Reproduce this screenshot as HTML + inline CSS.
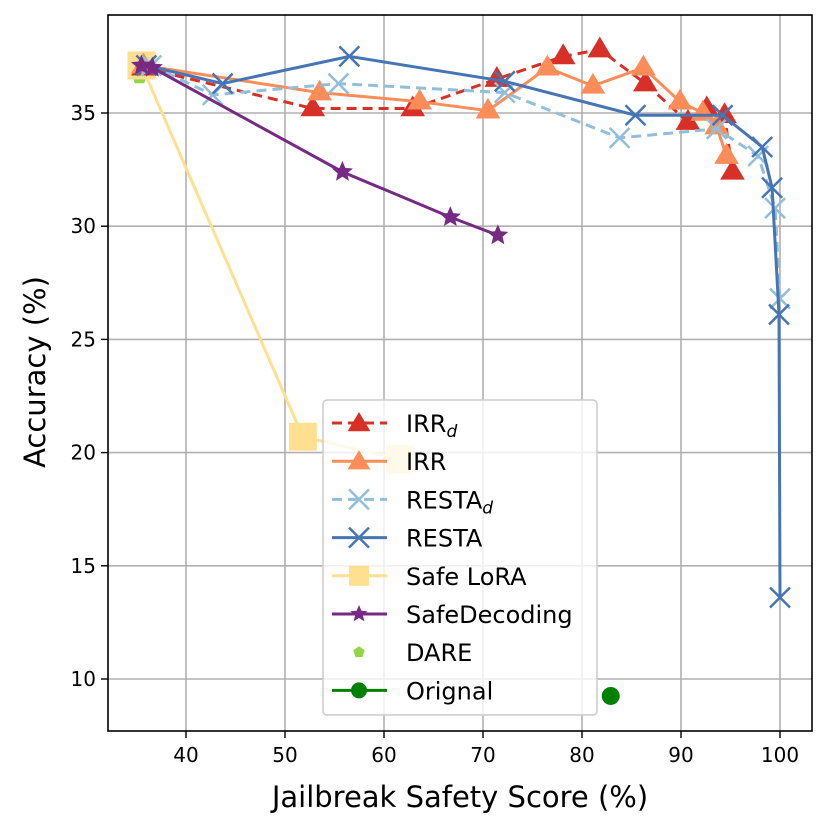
<!DOCTYPE html>
<html><head><meta charset="utf-8"><style>
html,body{margin:0;padding:0;background:#fff}
svg{display:block;font-family:"DejaVu Sans","Liberation Sans",sans-serif}
</style></head><body>
<svg id="chart" width="829" height="829" viewBox="0 0 829 829" xmlns="http://www.w3.org/2000/svg">
<defs><clipPath id="pc"><rect x="108" y="15" width="704" height="716"/></clipPath></defs>
<g id="grid"></g>
<g id="series" clip-path="url(#pc)"></g>
<rect x="108" y="15" width="704" height="716" fill="none" stroke="#000" stroke-width="1.6"/>
<g id="ticks"></g>
<text x="460" y="807" font-size="29" text-anchor="middle">Jailbreak Safety Score (%)</text>
<text transform="translate(45,372) rotate(-90)" font-size="29" text-anchor="middle">Accuracy (%)</text>
<g id="legend"></g>
</svg>
<script>
const xTicks=[40,50,60,70,80,90,100];
const yTicks=[10,15,20,25,30,35];
const irrdX=[35.7,52.8,62.9,71.4,78.1,81.8,86.4,90.7,92.6,94.4,95.2];
const irrdY=[37.0,35.2,35.2,36.5,37.5,37.8,36.3,34.6,35.2,34.9,32.4];
const irrX=[35.7,53.5,63.6,70.5,76.5,81.1,86.2,89.9,92.2,93.6,94.6];
const irrY=[37.1,35.9,35.5,35.1,37.0,36.2,37.0,35.5,35.0,34.4,33.1];
const restadX=[36.5,42.7,55.4,72.2,83.8,93.6,97.8,99.5,100];
const restadY=[37.1,35.8,36.3,35.9,33.9,34.3,33.1,30.8,26.8];
const restaX=[36.0,43.7,56.5,72.2,85.4,94.2,98.2,99.2,99.9,100];
const restaY=[37.1,36.3,37.5,36.4,34.9,34.9,33.5,31.7,26.1,13.6];
const loraX=[35.5,51.8,61.6];
const loraY=[37.1,20.7,19.7];
const sdX=[35.5,36.6,55.8,66.7,71.5];
const sdY=[37.1,37.0,32.4,30.4,29.6];
const dareX=[35.3];
const dareY=[36.6];
const origX=[82.9];
const origY=[9.25];

const NS="http://www.w3.org/2000/svg";
const sx=v=>186+(v-40)*9.9;
const sy=v=>113-(v-35)*22.64;
function mk(tag,attrs,parent){const e=document.createElementNS(NS,tag);for(const k in attrs)e.setAttribute(k,attrs[k]);parent.appendChild(e);return e;}
const grid=document.getElementById('grid'),ticks=document.getElementById('ticks'),ser=document.getElementById('series'),leg=document.getElementById('legend');
xTicks.forEach(t=>{const x=sx(t);
 const g=mk('line',{x1:x,x2:x,y1:15,y2:731,stroke:'#b0b0b0','stroke-width':1.6},grid);
 
 
 mk('line',{x1:x,x2:x,y1:731,y2:738,stroke:'#000','stroke-width':1.4},ticks);
 const tx=mk('text',{x:x,y:762,'font-size':20,'text-anchor':'middle'},ticks);tx.textContent=t;
 
 
});
yTicks.forEach(t=>{const y=sy(t);
 const g=mk('line',{x1:108,x2:812,y1:y,y2:y,stroke:'#b0b0b0','stroke-width':1.6},grid);
 
 
 mk('line',{x1:101,x2:108,y1:y,y2:y,stroke:'#000','stroke-width':1.4},ticks);
 const tx=mk('text',{x:96,y:y+7,'font-size':20,'text-anchor':'end'},ticks);tx.textContent=t;
 
 
});
function marker(type,x,y,c,p,s){
 if(type==='tri'){const r=s||13;return mk('polygon',{points:`${x},${y-r} ${x-r*0.95},${y+r*0.6} ${x+r*0.95},${y+r*0.6}`,fill:c},p);}
 if(type==='x'){const r=s||10;return mk('path',{d:`M${x-r} ${y-r}L${x+r} ${y+r}M${x-r} ${y+r}L${x+r} ${y-r}`,stroke:c,'stroke-width':2.5,fill:'none'},p);}
 if(type==='sq'){const r=s||14;return mk('rect',{x:x-r,y:y-r,width:2*r,height:2*r,fill:c},p);}
 if(type==='star'){const r=s||11;let pts=[];for(let i=0;i<10;i++){const a=-Math.PI/2+i*Math.PI/5;const rr=i%2?r*0.45:r;pts.push((x+rr*Math.cos(a)).toFixed(1)+','+(y+rr*Math.sin(a)).toFixed(1));}return mk('polygon',{points:pts.join(' '),fill:c},p);}
 if(type==='pent'){const r=s||8;let pts=[];for(let i=0;i<5;i++){const a=-Math.PI/2+i*2*Math.PI/5;pts.push((x+r*Math.cos(a)).toFixed(1)+','+(y+r*Math.sin(a)).toFixed(1));}return mk('polygon',{points:pts.join(' '),fill:c},p);}
 if(type==='circ'){return mk('circle',{cx:x,cy:y,r:s||9,fill:c},p);}
}
const S=[
 {n:'irr-d',X:irrdX,Y:irrdY,c:'#d73027',dash:'10,6',m:'tri',line:true},
 {n:'irr',X:irrX,Y:irrY,c:'#fc8d59',dash:null,m:'tri',line:true},
 {n:'resta-d',X:restadX,Y:restadY,c:'#91bfdb',dash:'10,6',m:'x',line:true},
 {n:'resta',X:restaX,Y:restaY,c:'#4575b4',dash:null,m:'x',line:true},
 {n:'safe-lora',X:loraX,Y:loraY,c:'#fee090',dash:null,m:'sq',line:true},
 {n:'safedecoding',X:sdX,Y:sdY,c:'#762a83',dash:null,m:'star',line:true},
 {n:'dare',X:dareX,Y:dareY,c:'#8fd744',dash:null,m:'pent',line:false},
 {n:'original',X:origX,Y:origY,c:'#008000',dash:null,m:'circ',line:true}
];
const order=[6,4,0,1,2,3,5,7];
order.forEach(i=>{const s=S[i];const g=mk('g',{},ser);
 
 
 if(s.line&&s.X.length>1){const a={points:s.X.map((v,j)=>sx(v)+','+sy(s.Y[j])).join(' '),fill:'none',stroke:s.c,'stroke-width':3};if(s.dash)a['stroke-dasharray']=s.dash;mk('polyline',a,g);}
 s.X.forEach((v,j)=>{const m=marker(s.m,sx(v),sy(s.Y[j]),s.c,g);
  
  });
});
const lb=mk('rect',{x:323,y:400,width:274,height:315,rx:4,fill:'#fff','fill-opacity':0.8,stroke:'#ccc','stroke-width':1.5},leg);


const labels=['IRR','IRR','RESTA','RESTA','Safe LoRA','SafeDecoding','DARE','Orignal'];
const subs=['d','','d','','','','',''];
const legSizes=[12,12,10,10,10,9,6,8];
S.forEach((s,i)=>{const y=423+i*38.2;const g=mk('g',{},leg);
 
 
 if(s.line){const a={x1:332,x2:387,y1:y,y2:y,stroke:s.c,'stroke-width':3};if(s.dash)a['stroke-dasharray']='10,6';mk('line',a,g);}
 marker(s.m,359,y+(s.m==='tri'?1:0),s.c,g,legSizes[i]);
 const t=mk('text',{x:406,y:y+9,'font-size':24},g);t.textContent=labels[i];
 if(subs[i]){const ts=mk('tspan',{'font-size':17,'font-style':'italic',dy:5},t);ts.textContent=subs[i];}
});
</script>
</body></html>
